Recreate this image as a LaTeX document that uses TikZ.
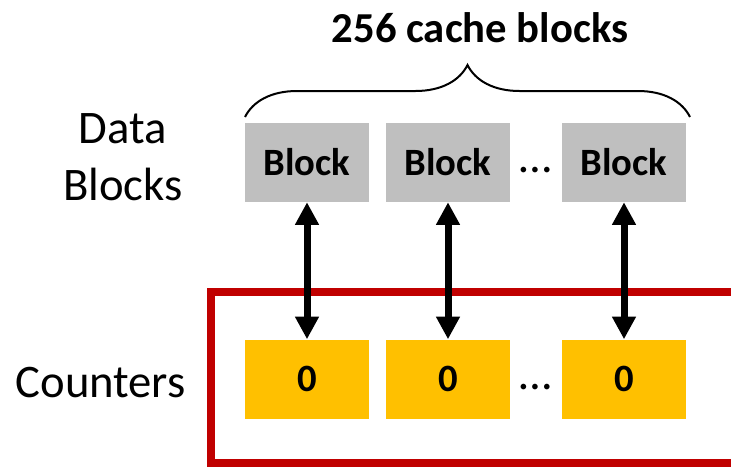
\documentclass[tikz,border=0pt]{standalone}
\usepackage{fontspec}
\setmainfont{Carlito}
\usetikzlibrary{arrows.meta,decorations.pathreplacing}
\definecolor{blockgray}{HTML}{BFBFBF}
\definecolor{ctryellow}{HTML}{FFC000}
\definecolor{boxred}{HTML}{C00000}
\tikzset{
  blk/.style={fill=blockgray, minimum width=93pt, minimum height=59.25pt, inner sep=0pt,
    font=\fontsize{29}{35}\selectfont\bfseries},
  ctr/.style={blk, fill=ctryellow},
  link/.style={line width=5.25pt, {Triangle[length=17pt,width=17pt]}-{Triangle[length=17pt,width=17pt]}},
  lbl/.style={font=\fontsize{35}{42.75}\selectfont, inner sep=0pt},
  gap/.style={lbl, anchor=base}
}
\begin{document}
\begin{tikzpicture}[x=0.75pt, y=-0.75pt]
			\useasboundingbox (0,0) rectangle (731,468);
			\clip (0,0) rectangle (731,468);
			% counter box, runs off the right edge
			\draw [boxred, line width=5.5pt] (760,292) -- (211,292) -- (211,463) -- (760,463);
			\node[blk] (b1) at (307,162.5) {Block};
			\node[blk] (b2) at (448,162.5) {Block};
			\node[blk] (b3) at (624,162.5) {Block};
			\node[ctr] (c1) at (307,379) {0};
			\node[ctr] (c2) at (448,379) {0};
			\node[ctr] (c3) at (624,379) {0};
			\node[gap] (d1) at (536,172) {…};
			\node[gap] (d2) at (536,389) {…};
			\draw [link] (b1) -- (c1);
			\draw [link] (b2) -- (c2);
			\draw [link] (b3) -- (c3);
			\draw [decorate, decoration={brace, amplitude=39pt}, line width=1.5pt] (245,117) -- (690,117);
			\node[font=\fontsize{32}{38}\selectfont\bfseries, inner sep=0pt] (title) at (480,28) {256 cache blocks};
			\node[lbl, align=center] (data) at (123,157) {Data\\Blocks};
			\node[lbl, anchor=base east] (cnt) at (186,397) {Counters};
			\end{tikzpicture}
\end{document}
